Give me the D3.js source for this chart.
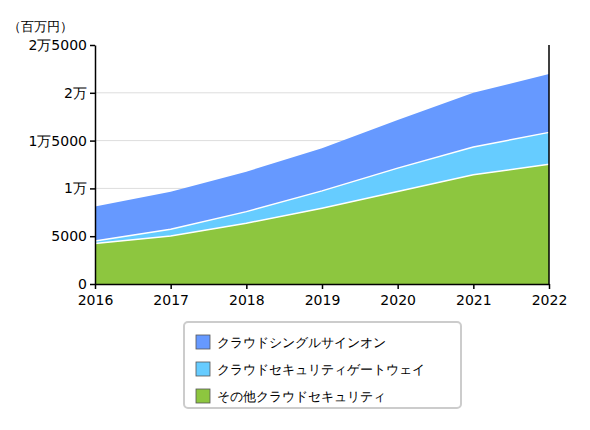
<!DOCTYPE html>
<html><head><meta charset="utf-8">
<script src="https://cdn.jsdelivr.net/npm/d3@7"></script>
<style>body{margin:0;background:#fff;font-family:"DejaVu Sans",sans-serif;}</style>
</head><body><div id="chart"></div>
<script>
var years = [2016, 2017, 2018, 2019, 2020, 2021, 2022];
var other = [4230, 5030, 6360, 7930, 9670, 11420, 12530];
var gateway = [270, 690, 1210, 1810, 2450, 2900, 3330];
var sso = [3600, 3940, 4180, 4460, 5030, 5680, 6110];
var yTicks = [0, 5000, 10000, 15000, 20000, 25000];
var yTickLabels = ["0", "5000", "1万", "1万5000", "2万", "2万5000"];
var seriesNames = ["その他クラウドセキュリティ", "クラウドセキュリティゲートウェイ", "クラウドシングルサインオン"];
var colors = ["#8dc63f", "#66ccff", "#6699ff"];

var svg = d3.select("#chart").append("svg").attr("width", 590).attr("height", 430);
var x = d3.scaleLinear().domain([2016, 2022]).range([95, 549]);
var y = d3.scaleLinear().domain([0, 25000]).range([284, 45]);

// grid
svg.selectAll(".grid").data(yTicks.slice(1, 5)).enter().append("line")
    .attr("x1", 95).attr("x2", 549)
    .attr("y1", function(d) { return y(d); }).attr("y2", function(d) { return y(d); })
    .attr("stroke", "#dddddd");

var rows = years.map(function(yr, i) { return { year: yr, a: other[i], b: gateway[i], c: sso[i] }; });
var stacked = d3.stack().keys(["a", "b", "c"])(rows);
var area = d3.area().x(function(d) { return x(d.data.year); })
    .y0(function(d) { return y(d[0]); }).y1(function(d) { return y(d[1]); });
var topLine = d3.line().x(function(d) { return x(d.data.year); }).y(function(d) { return y(d[1]); });

svg.selectAll(".area").data(stacked).enter().append("path")
    .attr("d", area).attr("fill", function(d, i) { return colors[i]; });
svg.selectAll(".sep").data(stacked.slice(0, 2)).enter().append("path")
    .attr("d", topLine).attr("fill", "none").attr("stroke", "#fff").attr("stroke-width", 1.5);

// axes
svg.append("g").attr("transform", "translate(0,284)")
    .call(d3.axisBottom(x).tickValues(years).tickFormat(d3.format("d")).tickSize(5).tickPadding(6).tickSizeOuter(0))
    .call(function(g) { g.selectAll("text").attr("font-size", 14).attr("fill", "#000").attr("font-family", "DejaVu Sans"); })
    .call(function(g) { g.selectAll("path,line").attr("stroke", "#000").attr("stroke-width", 1.5); });
svg.append("g").attr("transform", "translate(95,0)")
    .call(d3.axisLeft(y).tickValues(yTicks).tickFormat(function(d, i) { return yTickLabels[i]; }).tickSize(5).tickSizeOuter(0))
    .call(function(g) { g.selectAll("text").attr("font-size", 14).attr("fill", "#000").attr("font-family", "DejaVu Sans"); })
    .call(function(g) { g.selectAll("path,line").attr("stroke", "#000").attr("stroke-width", 1.5); });
svg.append("line").attr("x1", 549).attr("x2", 549).attr("y1", 45).attr("y2", 284).attr("stroke", "#000").attr("stroke-width", 1.5);

svg.append("text").attr("x", 8).attr("y", 31).attr("font-size", 13).text("（百万円）");

// legend
svg.append("rect").attr("x", 184).attr("y", 322).attr("width", 277).attr("height", 86)
    .attr("rx", 4).attr("fill", "#fff").attr("stroke", "#cccccc").attr("stroke-width", 2);
var order = [2, 1, 0];
order.forEach(function(s, i) {
    var cy = 342 + i * 27;
    svg.append("rect").attr("x", 196).attr("y", cy - 7).attr("width", 14).attr("height", 14)
        .attr("fill", colors[s]).attr("stroke", "#555").attr("stroke-width", 0.8);
    svg.append("text").attr("x", 217).attr("y", cy + 5).attr("font-size", 13).text(seriesNames[s]);
});
</script></body></html>
